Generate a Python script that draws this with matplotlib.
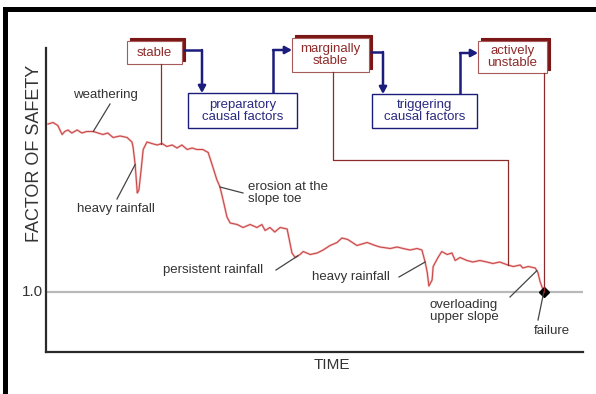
"""Factor of safety over time: stages of slope stability (conceptual diagram)."""

import matplotlib

matplotlib.use("Agg")
import matplotlib.pyplot as plt
import numpy as np
from matplotlib.patches import Rectangle

plt.rcParams["font.family"] = ["Liberation Sans", "DejaVu Sans"]

# Curve: time (arbitrary units 0-100) and factor of safety
time = [0.4, 1.3, 2.2, 3.0, 3.5, 4.1, 4.8, 5.8, 6.7, 7.6, 8.8, 9.7, 10.6, 11.5, 12.5,
        13.8, 15.1, 16.0, 16.2, 16.6, 17.0, 17.3, 17.7, 18.1, 18.8, 19.7, 20.7, 21.6,
        22.5, 23.5, 24.4, 25.3, 26.3, 27.2, 28.1, 29.2, 30.2, 31.1, 31.8, 32.4, 33.0,
        33.7, 34.3, 35.6, 36.7, 38.0, 39.3, 40.2, 40.8, 41.7, 42.6, 43.6, 44.9, 45.3,
        45.8, 46.4, 47.3, 47.9, 49.2, 50.5, 51.6, 52.9, 54.2, 55.1, 56.2, 57.9, 59.8,
        61.3, 62.2, 64.1, 65.4, 66.5, 67.8, 69.1, 70.0, 70.6, 71.0, 71.3, 71.9, 72.1,
        73.0, 73.7, 74.7, 75.6, 76.2, 77.1, 78.4, 79.5, 80.8, 82.1, 83.2, 84.5, 86.0,
        87.0, 88.3, 88.8, 89.8, 91.1, 91.6, 92.0, 92.7]
fos = [2.12, 2.13, 2.11, 2.05, 2.07, 2.08, 2.06, 2.08, 2.06, 2.07, 2.07, 2.06, 2.05,
       2.06, 2.03, 2.04, 2.03, 2.00, 1.97, 1.85, 1.66, 1.68, 1.81, 1.95, 2.00, 1.99,
       1.98, 1.99, 1.97, 1.98, 1.96, 1.98, 1.95, 1.96, 1.95, 1.95, 1.93, 1.83, 1.75,
       1.70, 1.61, 1.50, 1.46, 1.45, 1.43, 1.45, 1.43, 1.45, 1.41, 1.43, 1.40, 1.43,
       1.42, 1.35, 1.26, 1.23, 1.25, 1.27, 1.25, 1.26, 1.28, 1.31, 1.33, 1.36, 1.35,
       1.31, 1.33, 1.31, 1.30, 1.29, 1.30, 1.29, 1.28, 1.29, 1.28, 1.20, 1.13, 1.04,
       1.08, 1.17, 1.23, 1.27, 1.25, 1.26, 1.21, 1.23, 1.21, 1.20, 1.21, 1.20, 1.19,
       1.20, 1.18, 1.17, 1.18, 1.16, 1.17, 1.16, 1.13, 1.07, 1.00]
failure_time = 92.7
failure_fos = 1.0

# Event labels and the time on the curve they point to
event_labels = ["weathering", "heavy rainfall", "erosion at the\nslope toe",
                "persistent rainfall", "heavy rainfall", "overloading\nupper slope"]
event_times = [8.8, 16.6, 32.4, 46.9, 70.6, 91.4]

# Stability stages and the time each is tied to
stage_labels = ["stable", "marginally\nstable", "actively\nunstable"]
stage_times = [21.4, 86.0, 92.7]
factor_labels = ["preparatory\ncausal factors", "triggering\ncausal factors"]

W, H = 596, 394
RED = "#8e2a2a"
NAVY = "#1c1c7c"
GREY = "#333333"

fig = plt.figure(figsize=(W / 100, H / 100), dpi=100)
ax = fig.add_axes([46 / W, 42 / H, 537 / W, 304 / H])
ax.axhline(1.0, color="#b9b9b9", lw=1.6, zorder=1)
ax.plot(time, fos, color="#f4b6b6", lw=1.6, zorder=2, solid_joinstyle="round")
ax.plot(time, fos, color="#c44444", lw=0.7, zorder=3)
ax.plot(failure_time, failure_fos, marker="D", color="black", ms=5, zorder=5)
ax.set_xlim(0, 100)
ax.set_ylim(0.6, 1 + 244 / 150)
for side in ("top", "right"):
    ax.spines[side].set_visible(False)
for side in ("left", "bottom"):
    ax.spines[side].set_color("#2a2a2a")
    ax.spines[side].set_linewidth(1.6)
ax.set_xticks([])
ax.set_yticks([])
ax.patch.set_alpha(0)

# overlay in pixel units for the annotation layout
ov = fig.add_axes([0, 0, 1, 1], zorder=5)
ov.set_xlim(0, W)
ov.set_ylim(H, 0)
ov.axis("off")


def to_px(t, f):
    x, y = ax.transData.transform((t, f))
    return x, H - y


def curve_px(t):
    return to_px(t, np.interp(t, time, fos))


# frame of the original picture
ov.add_patch(Rectangle((3, 7), 5, H - 7, color="black", lw=0))
ov.add_patch(Rectangle((3, 7), W - 3, 5, color="black", lw=0))

ov.text(35, 153, "FACTOR OF SAFETY", rotation=90, ha="center", va="center",
        fontsize=13, color=GREY)
ov.text(332, 365, "TIME", ha="center", va="center", fontsize=11, color=GREY)
ov.text(43, 292, "1.0", ha="right", va="center", fontsize=11, color=GREY)

# event labels with pointer lines
text_pos = [(105, 95, "center"), (116, 209, "center"), (248, 193, "left"),
            (213, 270, "center"), (351, 277, "center"), (430, 311, "left")]
pointer_start = [(110, 104), (117, 199), (243, 193), (276, 270), (399, 277), (510, 297)]
for label, t, (tx, ty, ha), (sx, sy) in zip(event_labels, event_times, text_pos, pointer_start):
    ov.text(tx, ty, label, ha=ha, va="center", fontsize=9.5, color=GREY, linespacing=1.0)
    ex, ey = curve_px(t)
    ov.plot([sx, ex], [sy, ey], color="#444444", lw=0.9)
fx, fy = to_px(failure_time, failure_fos)
ov.text(552, 331, "failure", ha="center", va="center", fontsize=9.5, color=GREY)
ov.plot([538, fx], [320, fy], color="#444444", lw=0.9)

# red stage boxes (front face + shaded back face)
stage_boxes = [(127, 41, 55, 23), (292, 38, 77, 34), (478, 41, 69, 32)]
for label, (bx, by, bw, bh) in zip(stage_labels, stage_boxes):
    ov.add_patch(Rectangle((bx + 3, by - 3), bw, bh, facecolor="#7a1616", edgecolor="#7a1616", lw=0.8))
    ov.add_patch(Rectangle((bx, by), bw, bh, facecolor="white", edgecolor="#a85a5a", lw=0.8))
    ov.text(bx + bw / 2, by + bh / 2, label, ha="center", va="center", fontsize=9.5,
            color=RED, linespacing=1.0)

# connectors from stage boxes down to the curve
sx, sy = curve_px(stage_times[0])
ov.plot([161, 161], [64, sy], color=RED, lw=0.9)
mx, my = curve_px(stage_times[1])
ov.plot([333, 333, mx, mx], [72, 160, 160, my], color=RED, lw=0.9)
ax_, ay_ = to_px(stage_times[2], failure_fos)
ov.plot([ax_, ax_], [73, ay_], color=RED, lw=0.9)

# blue causal factor boxes
factor_boxes = [(188, 93, 109, 35), (372, 94, 105, 34)]
for label, (bx, by, bw, bh) in zip(factor_labels, factor_boxes):
    ov.add_patch(Rectangle((bx, by), bw, bh, facecolor="white", edgecolor=NAVY, lw=1.0))
    ov.text(bx + bw / 2, by + bh / 2, label, ha="center", va="center", fontsize=9.5,
            color="#2a2a80", linespacing=1.0)

# navy arrows linking stages and causal factors
arrow_paths = [[(183, 50), (202, 50), (202, 93)],
               [(273, 93), (273, 50), (292, 50)],
               [(370, 52), (383, 52), (383, 94)],
               [(460, 94), (460, 53), (478, 53)]]
for path in arrow_paths:
    xs, ys = zip(*path)
    ov.plot(xs[:-1], ys[:-1], color=NAVY, lw=1.8, solid_capstyle="butt")
    ov.annotate("", xy=path[-1], xytext=path[-2],
                arrowprops=dict(arrowstyle="-|>,head_length=0.4,head_width=0.22",
                                color=NAVY, lw=1.8, shrinkA=0, shrinkB=0))

fig.savefig("out.png", dpi=100)
plt.close(fig)
